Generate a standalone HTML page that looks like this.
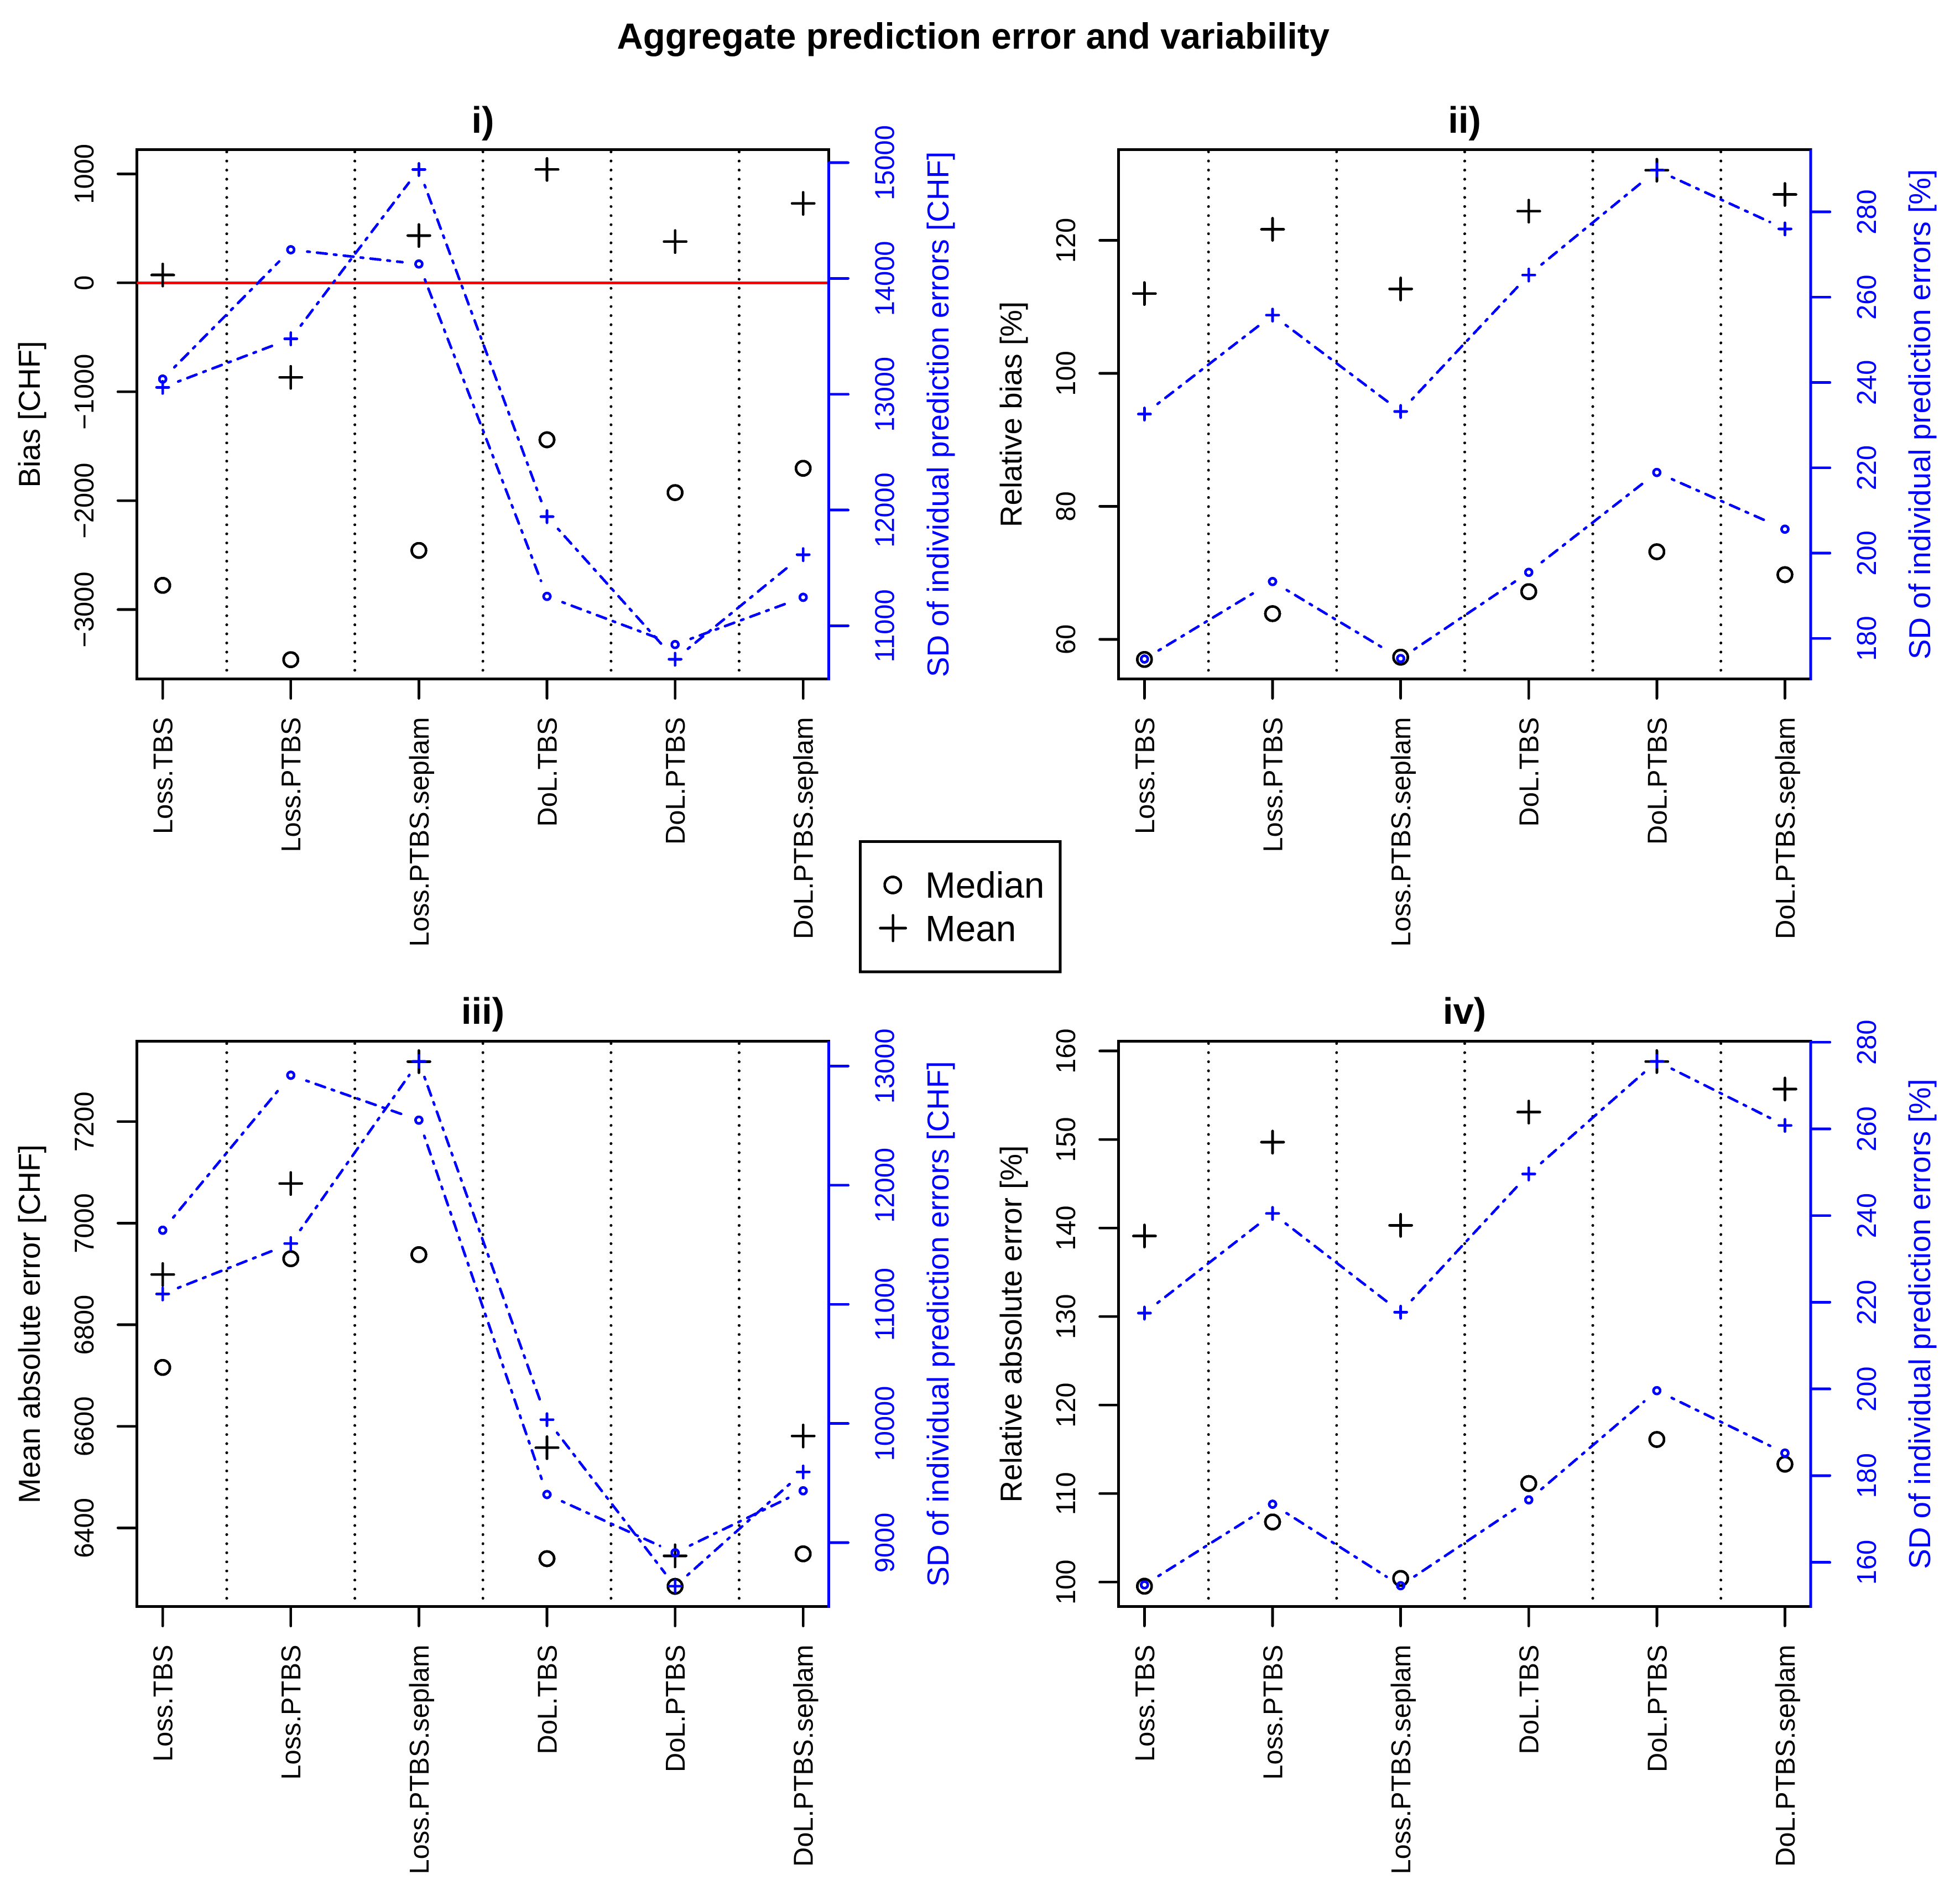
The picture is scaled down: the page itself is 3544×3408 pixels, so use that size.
<!DOCTYPE html>
<html lang="en">
<head>
<meta charset="utf-8">
<title>Aggregate prediction error and variability</title>
<style>
html,body{margin:0;padding:0;background:#fff;}
svg{display:block;}
text{font-family:"Liberation Sans",Arial,Helvetica,sans-serif;}
.tt{font-size:65.5px;font-weight:bold;text-anchor:middle;}
.pt{font-size:67px;font-weight:bold;text-anchor:middle;}
.al{font-size:54.8px;text-anchor:middle;}
.lg{font-size:65.7px;}
</style>
</head>
<body>
<svg id="chart" xmlns="http://www.w3.org/2000/svg" width="3544" height="3408" viewBox="0 0 3544 3408" shape-rendering="crispEdges">
  <rect x="0" y="0" width="3544" height="3408" fill="#fff"/>
  <text class="tt" x="1759.7" y="88">Aggregate prediction error and variability</text>

  <text class="pt" x="873" y="240">i)</text>
  <text class="pt" x="2648" y="240">ii)</text>
  <text class="pt" x="873" y="1851">iii)</text>
  <text class="pt" x="2648" y="1851">iv)</text>

  <text class="al" transform="translate(72,749) rotate(-90)">Bias [CHF]</text>
  <text class="al" transform="translate(1847,749) rotate(-90)">Relative bias [%]</text>
  <text class="al" transform="translate(72,2393.6) rotate(-90)">Mean absolute error [CHF]</text>
  <text class="al" transform="translate(1847,2393.6) rotate(-90)">Relative absolute error [%]</text>

  <text class="al" fill="#0000ff" transform="translate(1715,749) rotate(-90)">SD of individual prediction errors [CHF]</text>
  <text class="al" fill="#0000ff" transform="translate(3490,749) rotate(-90)">SD of individual prediction errors [%]</text>
  <text class="al" fill="#0000ff" transform="translate(1715,2393.6) rotate(-90)">SD of individual prediction errors [CHF]</text>
  <text class="al" fill="#0000ff" transform="translate(3490,2393.6) rotate(-90)">SD of individual prediction errors [%]</text>

  <g>
    <rect x="1555.4" y="1521.4" width="361.6" height="235.6" fill="#fff" stroke="#000" stroke-width="5"/>
    <circle cx="1614.3" cy="1600" r="14.6" fill="none" stroke="#000" stroke-width="4.8"/>
    <text class="lg" x="1673" y="1623">Median</text>
    <path d="M1591.7 1678H1637.7M1614.7 1655V1701" fill="none" stroke="#000" stroke-width="4.8" stroke-linecap="round"/>
    <text class="lg" x="1673" y="1701.3">Mean</text>
  </g>
</svg>
<script>
// Shared category labels
const categories = ["Loss.TBS", "Loss.PTBS", "Loss.PTBS.seplam", "DoL.TBS", "DoL.PTBS", "DoL.PTBS.seplam"];

// Panel i
const p1Median = [-2778, -3460, -2457, -1441, -1926, -1703];
const p1Mean = [72, -868, 434, 1041, 379, 729];
const p1SdMedian = [13131, 14248, 14125, 11254, 10838, 11246];
const p1SdMean = [13059, 13479, 14941, 11943, 10711, 11614];
const p1LeftTicks = [-3000, -2000, -1000, 0, 1000];
const p1RightTicks = [11000, 12000, 13000, 14000, 15000];
const p1LeftRange = [-3637, 1222];
const p1RightRange = [10541, 15112];

// Panel ii
const p2Median = [56.97, 63.86, 57.31, 67.17, 73.17, 69.72];
const p2Mean = [112.0, 121.66, 112.69, 124.4, 130.55, 126.9];
const p2SdMedian = [175.16, 193.33, 175.27, 195.48, 218.9, 205.6];
const p2SdMean = [232.6, 255.8, 233.2, 265.2, 289.8, 276.0];
const p2LeftTicks = [60, 80, 100, 120];
const p2RightTicks = [180, 200, 220, 240, 260, 280];
const p2LeftRange = [54.04, 133.63];
const p2RightRange = [170.49, 294.57];

// Panel iii
const p3Median = [6716, 6930, 6938, 6339.5, 6285, 6349];
const p3Mean = [6899, 7078, 7318, 6558, 6345, 6581];
const p3SdMedian = [11622, 12923, 12546, 9404, 8915, 9435];
const p3SdMean = [11087, 11510, 13039, 10032, 8634, 9593];
const p3LeftTicks = [6400, 6600, 6800, 7000, 7200];
const p3RightTicks = [9000, 10000, 11000, 12000, 13000];
const p3LeftRange = [6245.3, 7358];
const p3RightRange = [8463.8, 13207.5];

// Panel iv
const p4Median = [99.53, 106.79, 100.41, 111.14, 116.11, 113.32];
const p4Mean = [139.1, 149.7, 140.3, 153.1, 158.8, 155.7];
const p4SdMedian = [154.8, 173.4, 154.6, 174.4, 199.6, 185.2];
const p4SdMean = [217.5, 240.5, 217.7, 249.6, 275.6, 260.8];
const p4LeftTicks = [100, 110, 120, 130, 140, 150, 160];
const p4RightTicks = [160, 180, 200, 220, 240, 260, 280];
const p4LeftRange = [97.24, 161.09];
const p4RightRange = [149.8, 280.2];

const NS = "http://www.w3.org/2000/svg";
const svg = document.getElementById("chart");
const BLUE = "#0000ff";
const LW = 4.8;

function node(tag, parent) {
  const e = document.createElementNS(NS, tag);
  parent.appendChild(e);
  return e;
}
function seg(parent, x1, y1, x2, y2, color, width) {
  const e = node("line", parent);
  e.setAttribute("x1", x1);
  e.setAttribute("y1", y1);
  e.setAttribute("x2", x2);
  e.setAttribute("y2", y2);
  e.setAttribute("stroke", color);
  e.setAttribute("stroke-width", width);
  e.setAttribute("stroke-linecap", "round");
  return e;
}
function ring(parent, cx, cy, r, color) {
  const e = node("circle", parent);
  e.setAttribute("cx", cx);
  e.setAttribute("cy", cy);
  e.setAttribute("r", r);
  e.setAttribute("fill", "none");
  e.setAttribute("stroke", color);
  e.setAttribute("stroke-width", LW);
  return e;
}
function cross(parent, cx, cy, h, color) {
  const e = node("path", parent);
  e.setAttribute("d", "M" + (cx - h) + " " + cy + "H" + (cx + h) + "M" + cx + " " + (cy - h) + "V" + (cy + h));
  e.setAttribute("fill", "none");
  e.setAttribute("stroke", color);
  e.setAttribute("stroke-width", LW);
  e.setAttribute("stroke-linecap", "round");
  return e;
}
function rotatedText(parent, x, y, str, color, anchor) {
  const e = node("text", parent);
  e.setAttribute("transform", "translate(" + x + "," + y + ") rotate(-90)");
  e.setAttribute("font-size", "48.8");
  e.setAttribute("fill", color);
  e.setAttribute("text-anchor", anchor);
  e.textContent = str;
  return e;
}
function fmt(v) {
  return v < 0 ? "\u2212" + Math.abs(v) : String(v);
}

function drawPanel(p) {
  const xScale = i => p.left + (i + 1 - 0.798) / 5.402 * (p.right - p.left);
  const yLeft = v => p.bottom - (v - p.leftRange[0]) / (p.leftRange[1] - p.leftRange[0]) * (p.bottom - p.top);
  const yRight = v => p.bottom - (v - p.rightRange[0]) / (p.rightRange[1] - p.rightRange[0]) * (p.bottom - p.top);

  const g = node("g", svg);
  
  

  // dotted separators
  for (let i = 0; i < categories.length - 1; i++) {
    const xm = (xScale(i) + xScale(i + 1)) / 2;
    const d = seg(g, xm, p.top + 4, xm, p.bottom - 14, "#000", 5);
    d.setAttribute("stroke-dasharray", "0.01 16.43");
    
    
  }

  // frame
  const frame = node("rect", g);
  frame.setAttribute("x", p.left);
  frame.setAttribute("y", p.top);
  frame.setAttribute("width", p.right - p.left);
  frame.setAttribute("height", p.bottom - p.top);
  frame.setAttribute("fill", "none");
  frame.setAttribute("stroke", "#000");
  frame.setAttribute("stroke-width", "5");
  
  

  // x axis
  categories.forEach((c, i) => {
    const x = xScale(i);
    const t = seg(g, x, p.bottom, x, p.bottom + 35, "#000", LW);
    
    
    const l = rotatedText(g, x + 17.4, p.bottom + 69, c, "#000", "end");
    
    
  });

  // left axis
  p.leftTicks.forEach(v => {
    const y = yLeft(v);
    const t = seg(g, p.left, y, p.left - 34, y, "#000", LW);
    
    
    const l = rotatedText(g, p.left - 78.4, y, fmt(v), "#000", "middle");
    
    
  });

  // reference line at zero
  if (p.zeroLine) {
    const z = node("line", g);
    z.setAttribute("x1", p.left);
    z.setAttribute("x2", p.right);
    z.setAttribute("y1", yLeft(0));
    z.setAttribute("y2", yLeft(0));
    z.setAttribute("stroke", "#ff0000");
    z.setAttribute("stroke-width", "5");
    
    
  }

  // right axis
  const axisStart = p.axisFromTick ? yRight(Math.max.apply(null, p.rightTicks)) : p.top;
  const ax = node("line", g);
  ax.setAttribute("x1", p.right);
  ax.setAttribute("x2", p.right);
  ax.setAttribute("y1", axisStart);
  ax.setAttribute("y2", p.bottom + 2);
  ax.setAttribute("stroke", BLUE);
  ax.setAttribute("stroke-width", "5");
  
  
  p.rightTicks.forEach(v => {
    const y = yRight(v);
    const t = seg(g, p.right, y, p.right + 35, y, BLUE, LW);
    
    
    const l = rotatedText(g, p.right + 118, y, fmt(v), BLUE, "middle");
    
    
  });

  // black points
  p.median.forEach((v, i) => {
    const m = ring(g, xScale(i), yLeft(v), 13, "#000");
    
    
  });
  p.mean.forEach((v, i) => {
    const m = cross(g, xScale(i), yLeft(v), 20, "#000");
    
    
  });

  // blue series: broken lines between points (dash pattern restarts per segment)
  [p.sdMedian, p.sdMean].forEach((series, idx) => {
    const pts = series.map((v, i) => [xScale(i), yRight(v)]);
    for (let i = 0; i < pts.length - 1; i++) {
      const a = pts[i], b = pts[i + 1];
      const dx = b[0] - a[0], dy = b[1] - a[1];
      const len = Math.hypot(dx, dy);
      const gap = 30;
      if (len <= 2 * gap) continue;
      const s = seg(g, a[0] + dx / len * gap, a[1] + dy / len * gap, b[0] - dx / len * gap, b[1] - dy / len * gap, BLUE, LW);
      s.setAttribute("stroke-dasharray", "4.4 13.4 17.6 13.2");
      
      
    }
    pts.forEach(q => {
      const m = idx === 0 ? ring(g, q[0], q[1], 6, BLUE) : cross(g, q[0], q[1], 11, BLUE);
      
      
    });
  });
}

drawPanel({id: "i", left: 247.4, right: 1498.6, top: 270.7, bottom: 1227.5, zeroLine: true, axisFromTick: true,
  median: p1Median, mean: p1Mean, sdMedian: p1SdMedian, sdMean: p1SdMean,
  leftTicks: p1LeftTicks, rightTicks: p1RightTicks, leftRange: p1LeftRange, rightRange: p1RightRange});
drawPanel({id: "ii", left: 2022.6, right: 3273.8, top: 270.7, bottom: 1227.5, zeroLine: false, axisFromTick: false,
  median: p2Median, mean: p2Mean, sdMedian: p2SdMedian, sdMean: p2SdMean,
  leftTicks: p2LeftTicks, rightTicks: p2RightTicks, leftRange: p2LeftRange, rightRange: p2RightRange});
drawPanel({id: "iii", left: 247.4, right: 1498.6, top: 1882.7, bottom: 2904.5, zeroLine: false, axisFromTick: false,
  median: p3Median, mean: p3Mean, sdMedian: p3SdMedian, sdMean: p3SdMean,
  leftTicks: p3LeftTicks, rightTicks: p3RightTicks, leftRange: p3LeftRange, rightRange: p3RightRange});
drawPanel({id: "iv", left: 2022.6, right: 3273.8, top: 1882.7, bottom: 2904.5, zeroLine: false, axisFromTick: false,
  median: p4Median, mean: p4Mean, sdMedian: p4SdMedian, sdMean: p4SdMean,
  leftTicks: p4LeftTicks, rightTicks: p4RightTicks, leftRange: p4LeftRange, rightRange: p4RightRange});
</script>
</body>
</html>
